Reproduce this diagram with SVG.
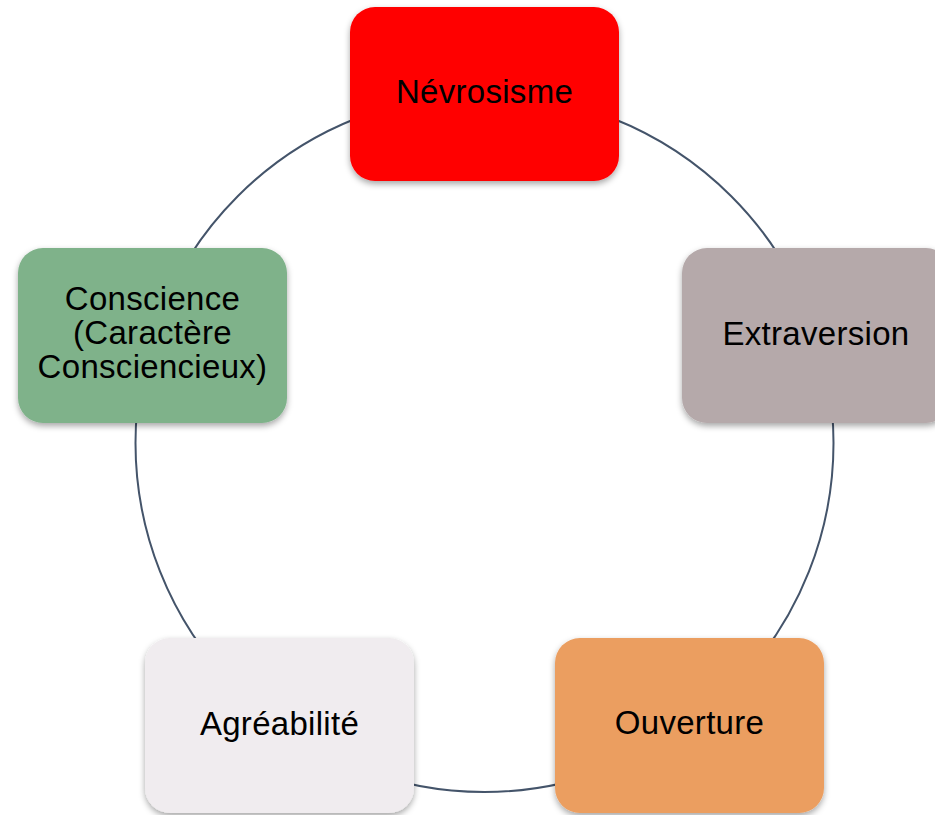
<svg xmlns="http://www.w3.org/2000/svg" width="935" height="815" viewBox="0 0 935 815">
<defs>
<filter id="sh" x="-10%" y="-10%" width="120%" height="125%">
<feDropShadow dx="0" dy="3" stdDeviation="3" flood-color="#000" flood-opacity="0.35"/>
</filter>
</defs>
<style>
.box{filter:url(#sh);}
.t{font-family:"Liberation Sans",Arial,sans-serif;font-size:33px;letter-spacing:0.3px;fill:#000;text-anchor:middle;}
.ring{fill:none;stroke:#44546a;stroke-width:2;}
</style>
<rect width="935" height="815" fill="#fff"/>
<g id="connectors">
<circle class="ring" cx="484.5" cy="443" r="349"/>
</g>
<g id="nevrosisme">
<rect class="box" x="350" y="7" width="269" height="174" rx="25" fill="#ff0000"/>
<text class="t" x="484.5" y="103">Névrosisme</text>
</g>
<g id="extraversion">
<rect class="box" x="682" y="248" width="269" height="175" rx="25" fill="#b5a9aa"/>
<text class="t" x="816" y="345">Extraversion</text>
</g>
<g id="ouverture">
<rect class="box" x="555" y="638" width="269" height="175" rx="25" fill="#eb9e60"/>
<text class="t" x="689.5" y="734">Ouverture</text>
</g>
<g id="agreabilite">
<rect class="box" x="145" y="638" width="269" height="175" rx="25" fill="#f0ecef"/>
<text class="t" x="279.5" y="735">Agréabilité</text>
</g>
<g id="conscience">
<rect class="box" x="18" y="248" width="269" height="175" rx="25" fill="#7fb28a"/>
<text class="t" x="152.5" y="310">Conscience</text>
<text class="t" x="152.5" y="344">(Caractère</text>
<text class="t" x="152.5" y="378">Consciencieux)</text>
</g>
</svg>
